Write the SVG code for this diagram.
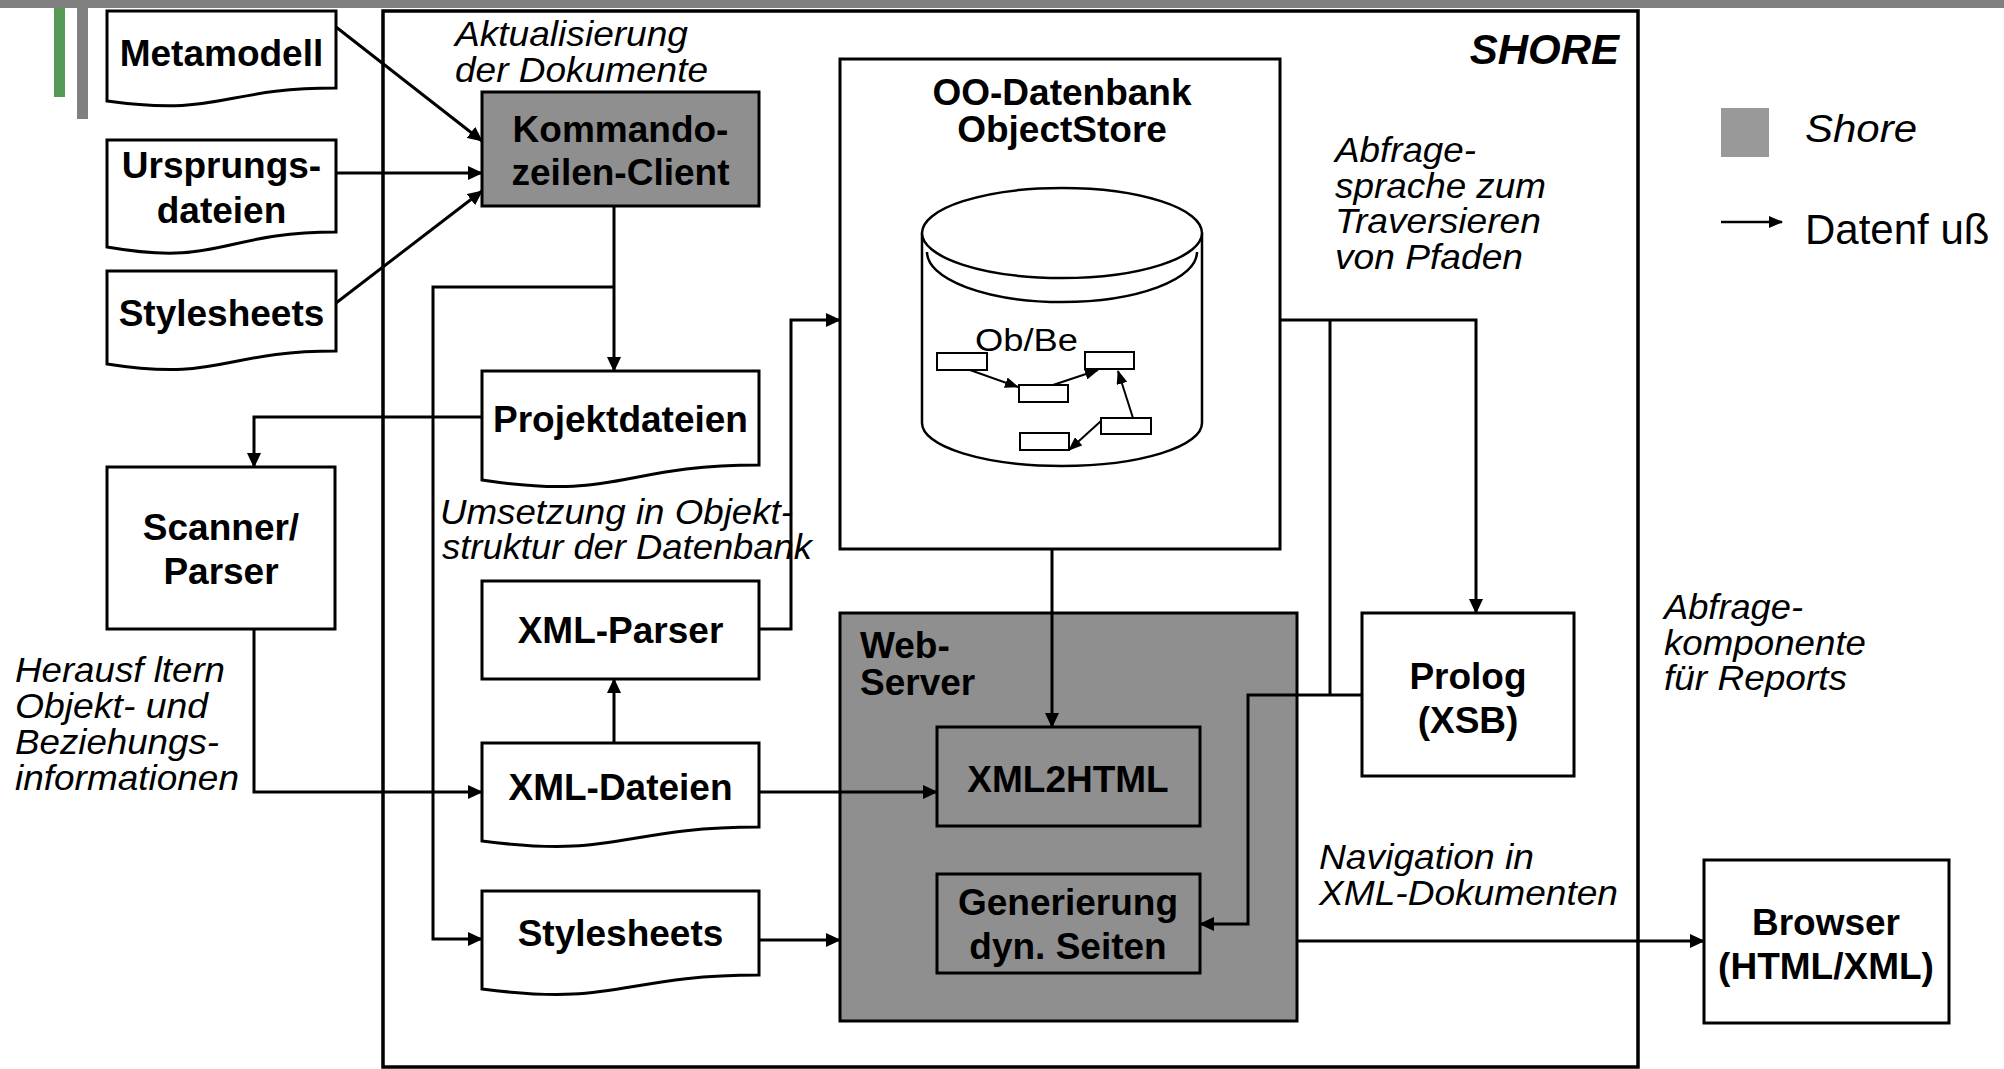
<svg xmlns="http://www.w3.org/2000/svg" width="2004" height="1069" viewBox="0 0 2004 1069">
<style>
.b{font-family:"Liberation Sans",Arial,sans-serif;font-weight:bold;font-size:37px;fill:#000;text-anchor:middle}
.i{font-family:"Liberation Sans",Arial,sans-serif;font-style:italic;font-size:34.5px;fill:#000}
.box{fill:#fff;stroke:#000;stroke-width:3}
.gbox{fill:#8f8f8f;stroke:#000;stroke-width:3}
.con{fill:none;stroke:#000;stroke-width:3}
.thin{fill:none;stroke:#000;stroke-width:2}
</style>
<defs>
<marker id="ah" viewBox="0 0 15 14" markerWidth="15" markerHeight="14" refX="14" refY="7" orient="auto" markerUnits="userSpaceOnUse"><path d="M0,0 L15,7 L0,14 z" fill="#000"/></marker>
<marker id="ahs" viewBox="0 0 14 11" markerWidth="14" markerHeight="11" refX="13" refY="5.5" orient="auto" markerUnits="userSpaceOnUse"><path d="M0,0 L14,5.5 L0,11 z" fill="#000"/></marker>
<marker id="ahl" viewBox="0 0 14 12" markerWidth="14" markerHeight="12" refX="13" refY="6" orient="auto" markerUnits="userSpaceOnUse"><path d="M0,0 L14,6 L0,12 z" fill="#000"/></marker>
</defs>
<rect x="0" y="0" width="2004" height="1069" fill="#fff"/>
<rect x="0" y="0" width="2004" height="8" fill="#808080"/>
<rect x="54" y="8" width="11" height="89" fill="#559955"/>
<rect x="77" y="8" width="11" height="111" fill="#808080"/>

<g id="shore">
<rect x="383" y="11" width="1255" height="1056" fill="none" stroke="#000" stroke-width="3.5"/>
<text x="1619" y="64" class="b" style="font-style:italic;font-size:42px;text-anchor:end">SHORE</text>
</g>

<g id="metamodell">
<path class="box" d="M107,11 H336 V88 C221.5,88 221.5,117 107,101 Z"/>
<text class="b" x="221.5" y="66">Metamodell</text>
</g>
<g id="ursprungsdateien">
<path class="box" d="M107,140 H336 V232 C221.5,232 221.5,267 107,247 Z"/>
<text class="b" x="221.5" y="178">Ursprungs-</text>
<text class="b" x="221.5" y="223">dateien</text>
</g>
<g id="stylesheets-ext">
<path class="box" d="M107,271 H336 V351 C221.5,351 221.5,382 107,364 Z"/>
<text class="b" x="221.5" y="326">Stylesheets</text>
</g>
<g id="kommando">
<rect class="gbox" x="482" y="92" width="277" height="114"/>
<text class="b" x="620.5" y="142">Kommando-</text>
<text class="b" x="620.5" y="185">zeilen-Client</text>
</g>
<g id="projektdateien">
<path class="box" d="M482,371 H759 V465 C620.5,465 620.5,501 482,480 Z"/>
<text class="b" x="620.5" y="432">Projektdateien</text>
</g>
<g id="scanner">
<rect class="box" x="107" y="467" width="228" height="162"/>
<text class="b" x="221" y="540">Scanner/</text>
<text class="b" x="221" y="584">Parser</text>
</g>
<g id="xmlparser">
<rect class="box" x="482" y="581" width="277" height="98"/>
<text class="b" x="620.5" y="643">XML-Parser</text>
</g>
<g id="xmldateien">
<path class="box" d="M482,743 H759 V827 C620.5,827 620.5,859 482,841 Z"/>
<text class="b" x="620.5" y="800">XML-Dateien</text>
</g>
<g id="stylesheets-int">
<path class="box" d="M482,891 H759 V975 C620.5,975 620.5,1007 482,989 Z"/>
<text class="b" x="620.5" y="946">Stylesheets</text>
</g>
<g id="oodb">
<rect class="box" x="840" y="59" width="440" height="490" stroke-width="3.5"/>
<text class="b" x="1062" y="105">OO-Datenbank</text>
<text class="b" x="1062" y="142">ObjectStore</text>
<path d="M922,233 V423 A140,43 0 0 0 1202,423 V233" fill="#fff" stroke="#000" stroke-width="2.5"/>
<ellipse cx="1062" cy="233" rx="140" ry="45" fill="#fff" stroke="#000" stroke-width="2.5"/>
<path d="M927,252 A135,50 0 0 0 1197,252" fill="none" stroke="#000" stroke-width="2.5"/>
<text x="975" y="351" style="font-family:'Liberation Sans',Arial,sans-serif;font-size:31px" textLength="103" lengthAdjust="spacingAndGlyphs">Ob/Be</text>
<g fill="#fff" stroke="#000" stroke-width="2">
<rect x="937" y="353" width="50" height="17"/>
<rect x="1019" y="385" width="49" height="17"/>
<rect x="1085" y="352" width="49" height="17"/>
<rect x="1101" y="418" width="50" height="16"/>
<rect x="1020" y="433" width="49" height="17"/>
</g>
<path class="thin" d="M970,370 L1018,387" marker-end="url(#ahs)"/>
<path class="thin" d="M1053,385 L1098,370" marker-end="url(#ahs)"/>
<path class="thin" d="M1133,418 L1118,371" marker-end="url(#ahs)"/>
<path class="thin" d="M1101,421 L1069,450" marker-end="url(#ahs)"/>
</g>
<g id="webserver">
<rect class="gbox" x="840" y="613" width="457" height="408"/>
<text class="b" x="860" y="658" style="text-anchor:start">Web-</text>
<text class="b" x="860" y="695" style="text-anchor:start">Server</text>
</g>
<g id="xml2html">
<rect class="gbox" x="937" y="727" width="263" height="99"/>
<text class="b" x="1068" y="792">XML2HTML</text>
</g>
<g id="generierung">
<rect class="gbox" x="937" y="874" width="263" height="99"/>
<text class="b" x="1068" y="915">Generierung</text>
<text class="b" x="1068" y="959">dyn. Seiten</text>
</g>
<g id="prolog">
<rect class="box" x="1362" y="613" width="212" height="163"/>
<text class="b" x="1468" y="689">Prolog</text>
<text class="b" x="1468" y="733">(XSB)</text>
</g>
<g id="browser">
<rect class="box" x="1704" y="860" width="245" height="163"/>
<text class="b" x="1826" y="935">Browser</text>
<text class="b" x="1826" y="979">(HTML/XML)</text>
</g>

<g id="connectors">
<path class="con" d="M336,27 L482,141" marker-end="url(#ah)"/>
<path class="con" d="M336,173 H482" marker-end="url(#ah)"/>
<path class="con" d="M336,303 L482,191" marker-end="url(#ah)"/>
<path class="con" d="M614,206 V371" marker-end="url(#ah)"/>
<path class="con" d="M614,287 H433 V939 H482" marker-end="url(#ah)"/>
<path class="con" d="M482,417 H254 V467" marker-end="url(#ah)"/>
<path class="con" d="M254,629 V792 H482" marker-end="url(#ah)"/>
<path class="con" d="M614,743 V679" marker-end="url(#ah)"/>
<path class="con" d="M759,629 H791 V320 H840" marker-end="url(#ah)"/>
<path class="con" d="M759,792 H937" marker-end="url(#ah)"/>
<path class="con" d="M759,940 H840" marker-end="url(#ah)"/>
<path class="con" d="M1052,549 V727" marker-end="url(#ah)"/>
<path class="con" d="M1280,320 H1476 V613" marker-end="url(#ah)"/>
<path class="con" d="M1330,320 V695"/>
<path class="con" d="M1362,695 H1248 V924 H1200" marker-end="url(#ah)"/>
<path class="con" d="M1297,941 H1704" marker-end="url(#ah)"/>
</g>

<g id="labels">
<text class="i" x="455" y="46" textLength="233" lengthAdjust="spacingAndGlyphs">Aktualisierung</text>
<text class="i" x="455" y="82" textLength="253" lengthAdjust="spacingAndGlyphs">der Dokumente</text>
<text class="i" x="440" y="524" textLength="353" lengthAdjust="spacingAndGlyphs">Umsetzung in Objekt-</text>
<text class="i" x="442" y="559" textLength="370" lengthAdjust="spacingAndGlyphs">struktur der Datenbank</text>
<text class="i" x="1335" y="162" textLength="141" lengthAdjust="spacingAndGlyphs">Abfrage-</text>
<text class="i" x="1335" y="198" textLength="211" lengthAdjust="spacingAndGlyphs">sprache zum</text>
<text class="i" x="1335" y="233" textLength="206" lengthAdjust="spacingAndGlyphs">Traversieren</text>
<text class="i" x="1335" y="269" textLength="188" lengthAdjust="spacingAndGlyphs">von Pfaden</text>
<text class="i" x="1664" y="619" textLength="139" lengthAdjust="spacingAndGlyphs">Abfrage-</text>
<text class="i" x="1664" y="655" textLength="202" lengthAdjust="spacingAndGlyphs">komponente</text>
<text class="i" x="1664" y="690" textLength="183" lengthAdjust="spacingAndGlyphs">für Reports</text>
<text class="i" x="1319" y="869" textLength="215" lengthAdjust="spacingAndGlyphs">Navigation in</text>
<text class="i" x="1319" y="905" textLength="299" lengthAdjust="spacingAndGlyphs">XML-Dokumenten</text>
<text class="i" x="15" y="682" textLength="210" lengthAdjust="spacingAndGlyphs">Herausf ltern</text>
<text class="i" x="15" y="718" textLength="193" lengthAdjust="spacingAndGlyphs">Objekt- und</text>
<text class="i" x="15" y="754" textLength="204" lengthAdjust="spacingAndGlyphs">Beziehungs-</text>
<text class="i" x="15" y="790" textLength="224" lengthAdjust="spacingAndGlyphs">informationen</text>
</g>

<g id="legend">
<rect x="1721" y="108" width="48" height="49" fill="#999"/>
<text class="i" x="1805" y="142" style="font-size:38px" textLength="112" lengthAdjust="spacingAndGlyphs">Shore</text>
<path d="M1721,222 H1782" stroke="#000" stroke-width="2.7" marker-end="url(#ahl)"/>
<text x="1805" y="244" style="font-family:'Liberation Sans',Arial,sans-serif;font-size:42px">Datenf uß</text>
</g>
</svg>
